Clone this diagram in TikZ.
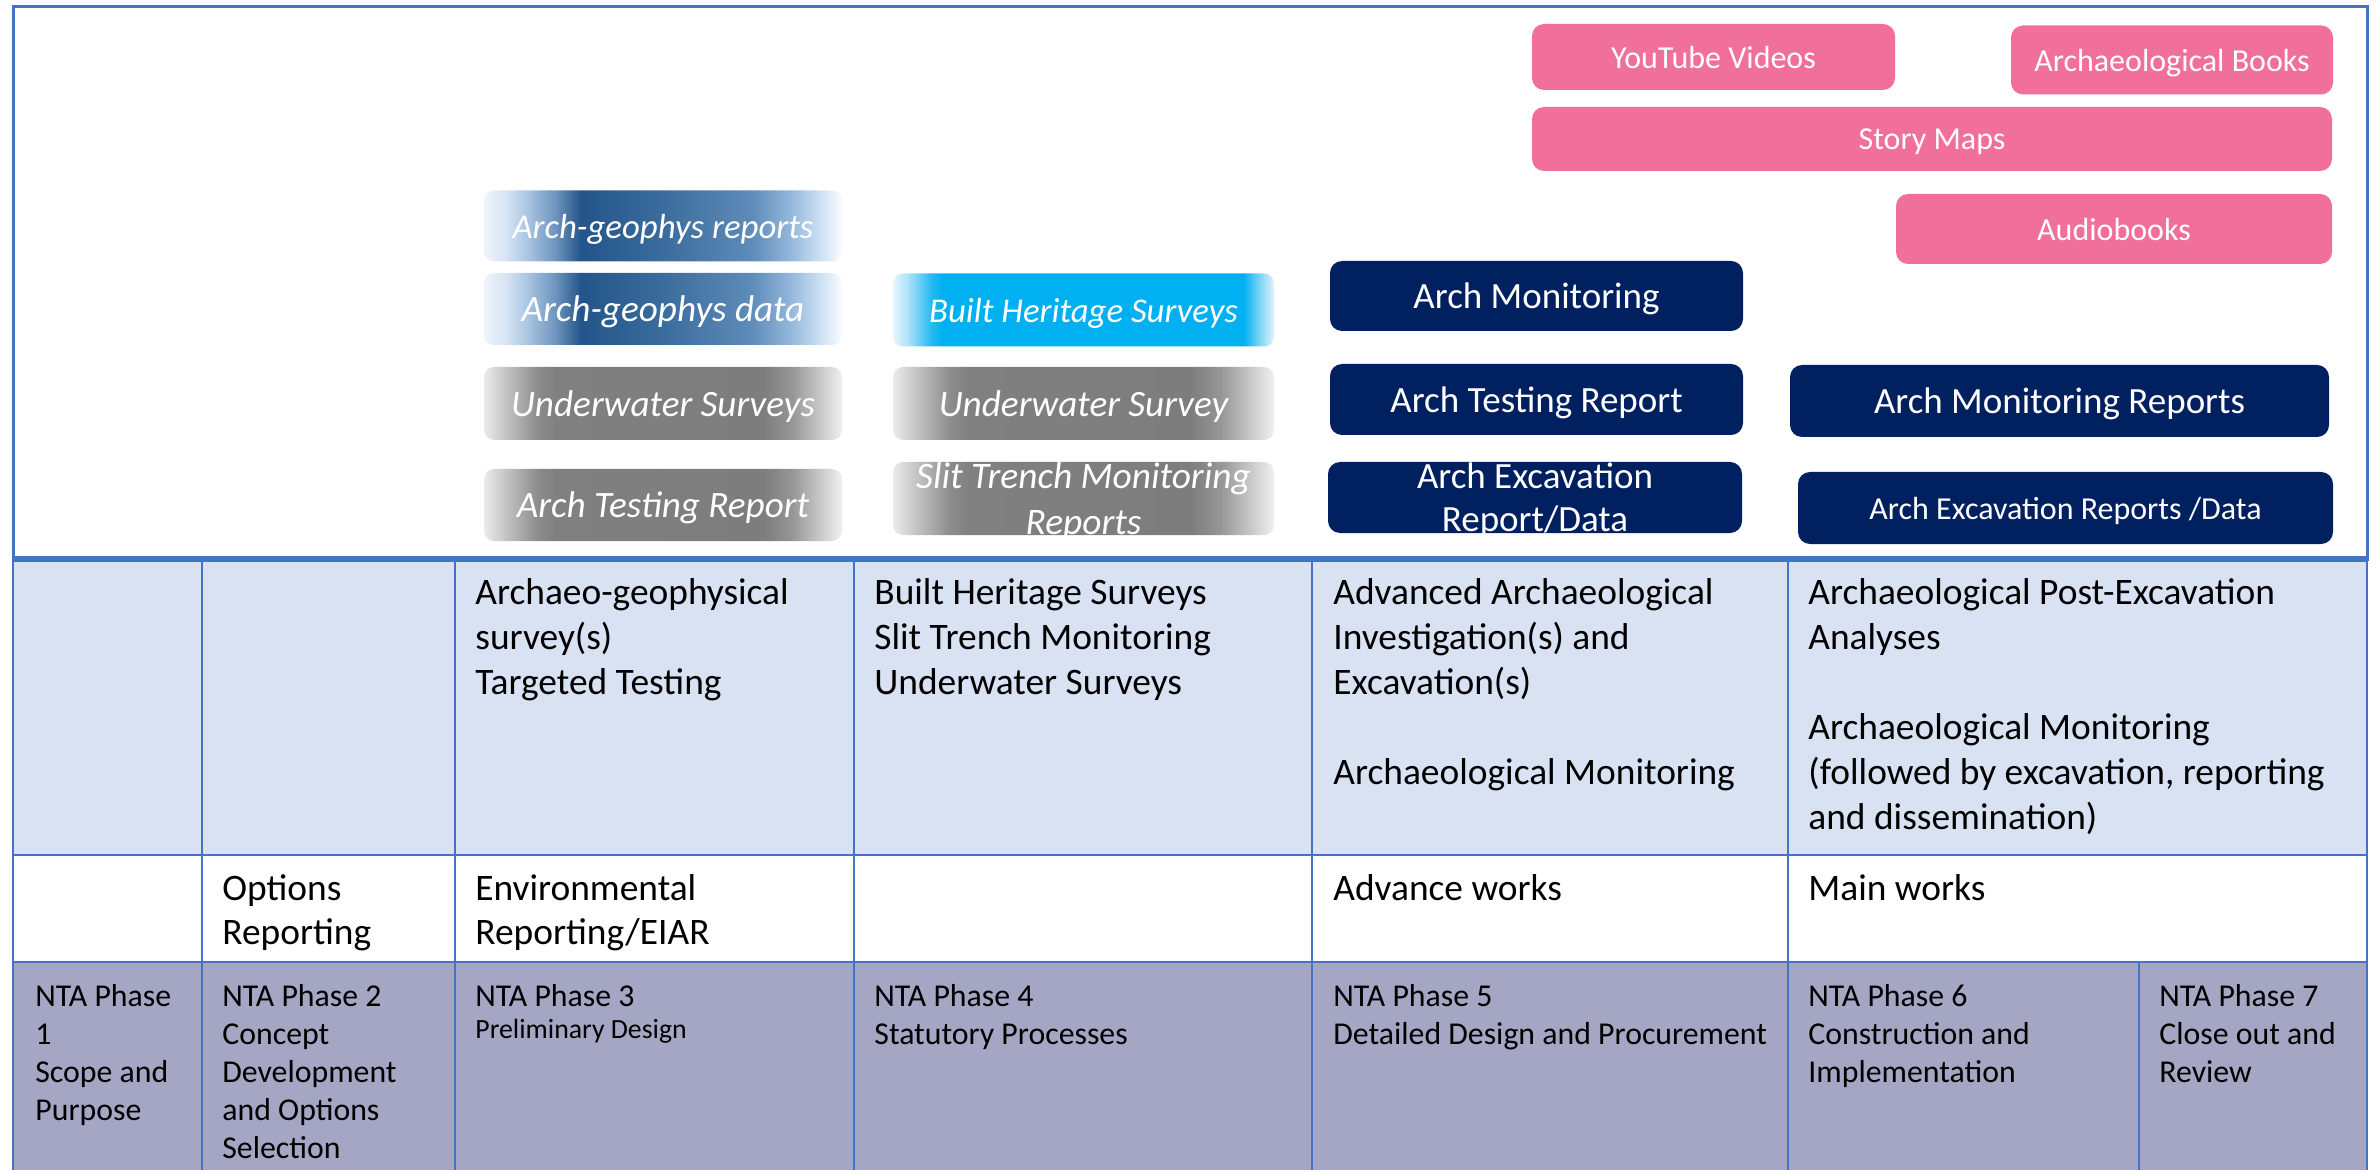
\documentclass[tikz,border=0pt]{standalone}
\usepackage{fontspec}
\setmainfont{Carlito}
\definecolor{gridline}{RGB}{68,114,196}
\definecolor{rowblue}{RGB}{217,226,243}
\definecolor{rowgrey}{RGB}{165,166,195}
\definecolor{pinkbox}{RGB}{240,112,155}
\definecolor{navybox}{RGB}{0,32,96}
% geophys gradient
\definecolor{geo0}{RGB}{238,244,251}
\definecolor{geo1}{RGB}{215,229,243}
\definecolor{geo2}{RGB}{170,198,226}
\definecolor{geo3}{RGB}{110,148,190}
\definecolor{geo4}{RGB}{36,85,138}
\definecolor{geo5}{RGB}{58,108,157}
\definecolor{geo6}{RGB}{95,140,185}
\definecolor{geo7}{RGB}{150,185,220}
\definecolor{geo8}{RGB}{205,225,243}
\definecolor{geo9}{RGB}{250,252,255}
% grey gradient
\definecolor{gry0}{RGB}{235,235,235}
\definecolor{gry1}{RGB}{190,190,190}
\definecolor{gry2}{RGB}{140,140,140}
\definecolor{gry3}{RGB}{128,128,128}
\definecolor{gry4}{RGB}{125,125,125}
\definecolor{gry5}{RGB}{150,150,150}
\definecolor{gry6}{RGB}{195,195,195}
\definecolor{gry7}{RGB}{240,240,240}
% cyan gradient
\definecolor{cya0}{RGB}{230,245,253}
\definecolor{cya1}{RGB}{170,225,248}
\definecolor{cya2}{RGB}{40,185,242}
\definecolor{cya3}{RGB}{0,176,240}
\definecolor{cya4}{RGB}{120,210,245}
\definecolor{cya5}{RGB}{225,243,252}
\pgfdeclarehorizontalshading{geoshade}{100bp}{color(0bp)=(geo0); color(25bp)=(geo0); color(28bp)=(geo1); color(31bp)=(geo2); color(35bp)=(geo3); color(38.5bp)=(geo4); color(50bp)=(geo5); color(62.5bp)=(geo6); color(68bp)=(geo7); color(72bp)=(geo8); color(75bp)=(geo9); color(100bp)=(geo9)}
\pgfdeclarehorizontalshading{greyshade}{100bp}{color(0bp)=(gry0); color(25bp)=(gry0); color(28.5bp)=(gry1); color(32.5bp)=(gry2); color(35bp)=(gry3); color(64bp)=(gry4); color(68bp)=(gry5); color(71.5bp)=(gry6); color(75bp)=(gry7); color(100bp)=(gry7)}
\pgfdeclarehorizontalshading{cyanshade}{100bp}{color(0bp)=(cya0); color(25bp)=(cya0); color(27bp)=(cya1); color(30bp)=(cya2); color(31.5bp)=(cya3); color(71bp)=(cya3); color(73bp)=(cya4); color(75bp)=(cya5); color(100bp)=(cya5)}
\newcommand\celltext[1]{\begin{tabular}[t]{@{}l@{}}#1\end{tabular}}
\newcommand\ctrtext[1]{\begin{tabular}[t]{@{}c@{}}#1\end{tabular}}
\tikzset{
  pinkbx/.style={rectangle, rounded corners=6pt, fill=pinkbox, text=white, inner sep=0pt, text depth=0pt, font=\fontsize{16}{19}\selectfont},
  navybx/.style={rectangle, rounded corners=6pt, fill=navybox, text=white, inner sep=0pt, text depth=0pt, font=\fontsize{18.5}{22}\selectfont},
  gradbx/.style={rectangle, rounded corners=5pt, text=white, inner sep=0pt, text depth=0pt, font=\fontsize{18.6}{22}\selectfont\itshape},
  smallital/.style={font=\fontsize{17.4}{21}\selectfont\itshape},
  geobx/.style={gradbx, shade, shading=geoshade},
  greybx/.style={gradbx, shade, shading=greyshade},
  cyanbx/.style={gradbx, shade, shading=cyanshade},
  bigcell/.style={anchor=base west, inner sep=0pt, font=\fontsize{18.7}{22.5}\selectfont},
  midcell/.style={anchor=base west, inner sep=0pt, font=\fontsize{18.7}{22.3}\selectfont},
  phasecell/.style={anchor=base west, inner sep=0pt, font=\fontsize{15.9}{19}\selectfont},
  thinrule/.style={draw=gridline, line width=1.2pt},
  thickrule/.style={draw=gridline, line width=2.8pt},
  framerule/.style={draw=gridline, line width=1.5pt}
}
\begin{document}
\begin{tikzpicture}[x=0.5pt,y=-0.5pt]
\useasboundingbox (0,0) rectangle (2380,1170);
% table backgrounds
\fill[rowblue] (13,559) rectangle (2367,855);
\fill[white] (13,855) rectangle (2367,962);
\fill[rowgrey] (13,962) rectangle (2367,1170);
% frame of the upper area
\draw[framerule] (13,7) rectangle (2367,559);
% table rules
\foreach \xx in {13,202,455,854,1312,1788,2367} { \draw[thinrule] (\xx,559) -- (\xx,1170); }
\draw[thinrule] (2139,962) -- (2139,1170);
\draw[thinrule] (13,855) -- (2367,855);
\draw[thinrule] (13,962) -- (2367,962);
\draw[thickrule] (13,559) -- (2367,559);

% pink boxes
\node[pinkbx, minimum width=181.5pt, minimum height=33pt] (yt) at (1713.5,57) {YouTube Videos};
\node[pinkbx, minimum width=161pt, minimum height=34.5pt] (books) at (2172,60) {Archaeological Books};
\node[pinkbx, minimum width=400pt, minimum height=32pt] (story) at (1932,139) {Story Maps};
\node[pinkbx, minimum width=218pt, minimum height=35pt] (audio) at (2114,229) {Audiobooks};

% navy boxes
\node[navybx, minimum width=206.5pt, minimum height=35pt] (amon) at (1536.5,296) {Arch Monitoring};
\node[navybx, minimum width=206.5pt, minimum height=35.5pt] (atest) at (1536.5,399.5) {Arch Testing Report};
\node[navybx, minimum width=207pt, minimum height=35.5pt] (aexc) at (1535,497.5) {};
\begin{scope}
\clip[rounded corners=6pt] (aexc.south west) rectangle (aexc.north east);
\node[anchor=base, inner sep=0pt, text=white, font=\fontsize{18.5}{21.5}\selectfont] (aexct) at (1535,488) {\ctrtext{Arch Excavation\\Report/Data}};
\end{scope}
\node[navybx, minimum width=269.5pt, minimum height=36pt] (amonr) at (2059.5,401) {Arch Monitoring Reports};
\node[navybx, minimum width=267.5pt, minimum height=36pt, font=\fontsize{16}{19}\selectfont] (aexcr) at (2065.5,508) {Arch Excavation Reports /Data};

% gradient boxes column 3
\node[geobx, smallital, minimum width=179pt, minimum height=35.5pt] (agr) at (663,226) {Arch-geophys reports};
\node[geobx, minimum width=179pt, minimum height=36pt] (agd) at (663,309) {Arch-geophys data};
\node[greybx, minimum width=179pt, minimum height=36.5pt] (uws) at (663,403.5) {Underwater Surveys};
\node[greybx, minimum width=179pt, minimum height=36pt] (atr) at (663,505) {Arch Testing Report};
% gradient boxes column 4
\node[cyanbx, smallital, minimum width=190.5pt, minimum height=36.5pt] (bhs) at (1083.5,310) {Built Heritage Surveys};
\node[greybx, minimum width=190.5pt, minimum height=36.5pt] (uw) at (1083.5,403.5) {Underwater Survey};
\node[greybx, minimum width=190.5pt, minimum height=36.5pt] (stm) at (1083.5,498.5) {};
\begin{scope}
\clip[rounded corners=5pt] (stm.south west) rectangle (stm.north east);
\node[anchor=base, inner sep=0pt, text=white, font=\fontsize{18.7}{23}\selectfont\itshape] (stmt) at (1083.5,488) {\ctrtext{Slit Trench Monitoring\\Reports}};
\end{scope}

% table: activities row
\node[bigcell] (r1c3) at (475,604) {\celltext{Archaeo-geophysical\\survey(s)\\Targeted Testing}};
\node[bigcell] (r1c4) at (874,604) {\celltext{Built Heritage Surveys\\Slit Trench Monitoring\\Underwater Surveys}};
\node[bigcell] (r1c5) at (1333,604) {\celltext{Advanced Archaeological\\Investigation(s) and\\Excavation(s)\\ \\Archaeological Monitoring}};
\node[bigcell] (r1c6) at (1808,604) {\celltext{Archaeological Post-Excavation\\Analyses\\ \\Archaeological Monitoring\\(followed by excavation, reporting\\and dissemination)}};

% table: reporting row
\node[midcell] (r2c2) at (222,900) {\celltext{Options\\Reporting}};
\node[midcell] (r2c3) at (475,900) {\celltext{Environmental\\Reporting/EIAR}};
\node[midcell] (r2c5) at (1333,900) {Advance works};
\node[midcell] (r2c6) at (1808,900) {Main works};

% table: phases row
\node[phasecell] (p1) at (35,1006) {\celltext{NTA Phase\\1\\Scope and\\Purpose}};
\node[phasecell] (p2) at (222,1006) {\celltext{NTA Phase 2\\Concept\\Development\\and Options\\Selection}};
\node[phasecell] (p3) at (475,1006) {\celltext{NTA Phase 3\\[-2.7pt]{\fontsize{13.9}{16}\selectfont Preliminary Design}}};
\node[phasecell] (p4) at (874,1006) {\celltext{NTA Phase 4\\Statutory Processes}};
\node[phasecell] (p5) at (1333,1006) {\celltext{NTA Phase 5\\Detailed Design and Procurement}};
\node[phasecell] (p6) at (1808,1006) {\celltext{NTA Phase 6\\Construction and\\Implementation}};
\node[phasecell] (p7) at (2159,1006) {\celltext{NTA Phase 7\\Close out and\\Review}};
\end{tikzpicture}
\end{document}
